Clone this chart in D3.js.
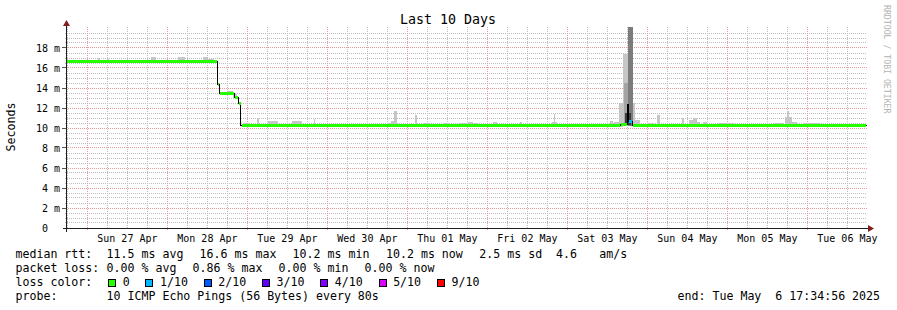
<!DOCTYPE html>
<html>
<head>
<meta charset="utf-8">
<script src="https://cdn.jsdelivr.net/npm/d3@7"></script>
<style>
  body { margin: 0; background: #fff; }
  text { font-family: "DejaVu Sans Mono", monospace; white-space: pre; }
</style>
</head>
<body>
<svg id="chart" width="897" height="310"></svg>
<script>
// ---- data ----
const endTime = "2025-05-06 17:34:56";
const spanDays = 10;
const yTicks = [0, 2, 4, 6, 8, 10, 12, 14, 16, 18];
const dayTicks = ["2025-04-27", "2025-04-28", "2025-04-29", "2025-04-30", "2025-05-01",
  "2025-05-02", "2025-05-03", "2025-05-04", "2025-05-05", "2025-05-06"];
const dayLabels = ["Sun 27 Apr", "Mon 28 Apr", "Tue 29 Apr", "Wed 30 Apr", "Thu 01 May",
  "Fri 02 May", "Sat 03 May", "Sun 04 May", "Mon 05 May", "Tue 06 May"];

// median rtt (ms), stepped, with loss class index
const medianTimes = ["2025-04-26 17:35", "2025-04-28 15:00", "2025-04-28 15:36", "2025-04-28 20:06",
  "2025-04-28 21:18", "2025-04-28 22:00", "2025-05-03 15:54", "2025-05-03 18:00",
  "2025-05-03 18:18", "2025-05-03 19:30"];
const medianValues = [16.6, 14.3, 13.5, 13.1, 12.5, 10.25, 10.4, 12.4, 10.7, 10.3];
const medianLoss = [0, 0, 0, 0, 0, 0, 0, 0, 1, 0];

// smoke: [from, to, top ms, shade]
const smoke = [
  ["2025-04-26 19:30", "2025-04-26 21:00", 16.8, 0],
  ["2025-04-27 03:18", "2025-04-27 03:54", 17.0, 0],
  ["2025-04-27 06:00", "2025-04-27 06:36", 16.95, 0],
  ["2025-04-27 13:30", "2025-04-27 14:42", 16.8, 0],
  ["2025-04-27 19:12", "2025-04-27 20:42", 17.1, 0],
  ["2025-04-27 23:00", "2025-04-28 00:30", 16.8, 0],
  ["2025-04-28 03:18", "2025-04-28 05:24", 17.1, 0],
  ["2025-04-28 10:48", "2025-04-28 11:48", 17.1, 0],
  ["2025-04-28 11:48", "2025-04-28 13:54", 16.95, 0],
  ["2025-04-28 17:54", "2025-04-28 19:48", 13.75, 0],
  ["2025-04-28 19:48", "2025-04-28 21:00", 13.4, 0],
  ["2025-04-28 22:48", "2025-04-29 00:54", 10.5, 0],
  ["2025-04-29 03:00", "2025-04-29 03:36", 11.0, 0],
  ["2025-04-29 06:18", "2025-04-29 09:18", 10.7, 0],
  ["2025-04-29 13:30", "2025-04-29 16:30", 10.75, 0],
  ["2025-04-29 20:06", "2025-04-29 20:24", 10.9, 0],
  ["2025-04-30 10:24", "2025-04-30 13:54", 10.45, 0],
  ["2025-04-30 18:00", "2025-04-30 19:12", 10.5, 0],
  ["2025-04-30 19:12", "2025-04-30 20:06", 10.75, 0],
  ["2025-04-30 20:06", "2025-04-30 20:54", 11.75, 0],
  ["2025-05-01 02:12", "2025-05-01 02:54", 11.35, 0],
  ["2025-05-01 04:48", "2025-05-01 06:54", 10.5, 0],
  ["2025-05-01 10:48", "2025-05-01 12:54", 10.5, 0],
  ["2025-05-01 15:54", "2025-05-01 20:54", 10.5, 0],
  ["2025-05-01 18:18", "2025-05-01 19:48", 10.6, 0],
  ["2025-05-02 01:48", "2025-05-02 03:00", 10.6, 0],
  ["2025-05-02 09:54", "2025-05-02 10:30", 10.6, 0],
  ["2025-05-02 12:18", "2025-05-02 16:48", 10.45, 0],
  ["2025-05-02 19:24", "2025-05-02 20:54", 10.6, 0],
  ["2025-05-02 19:54", "2025-05-02 20:24", 11.45, 0],
  ["2025-05-03 12:54", "2025-05-03 13:48", 10.75, 0],
  ["2025-05-03 14:06", "2025-05-03 15:36", 10.6, 0],
  ["2025-05-03 15:36", "2025-05-03 16:42", 12.5, 0],
  ["2025-05-03 16:42", "2025-05-03 18:12", 17.35, 0],
  ["2025-05-03 17:06", "2025-05-03 18:12", 14.5, 1],
  ["2025-05-03 18:12", "2025-05-03 19:36", 25, 2],
  ["2025-05-03 17:24", "2025-05-03 19:12", 11.5, 3],
  ["2025-05-03 19:36", "2025-05-03 20:24", 12.5, 0],
  ["2025-05-03 20:24", "2025-05-03 21:54", 10.8, 0],
  ["2025-05-03 23:54", "2025-05-04 01:54", 10.5, 0],
  ["2025-05-04 02:54", "2025-05-04 03:42", 11.3, 0],
  ["2025-05-04 10:24", "2025-05-04 10:54", 11.0, 0],
  ["2025-05-04 12:24", "2025-05-04 13:36", 10.8, 0],
  ["2025-05-04 13:36", "2025-05-04 15:00", 11.0, 0],
  ["2025-05-04 15:00", "2025-05-04 15:54", 10.6, 0],
  ["2025-05-04 16:48", "2025-05-04 18:00", 10.6, 0],
  ["2025-05-04 20:54", "2025-05-05 01:48", 10.5, 0],
  ["2025-05-05 13:48", "2025-05-05 16:48", 10.5, 0],
  ["2025-05-05 17:24", "2025-05-05 19:24", 11.1, 0],
  ["2025-05-05 17:54", "2025-05-05 18:24", 11.7, 0],
  ["2025-05-05 19:24", "2025-05-05 21:00", 10.6, 0],
  ["2025-05-05 22:48", "2025-05-06 03:54", 10.5, 0]
];
const smokeShades = ["#c6c6c6", "#a4a4a4", "#7c7c7c", "#3e3e3e"];

const lossLabels = ["0", "1/10", "2/10", "3/10", "4/10", "5/10", "9/10"];
const lossColors = ["#26ff00", "#00b8ff", "#0059ff", "#5e00ff", "#7e00ff", "#dd00ff", "#ff0000"];
const rttStats = ["11.5 ms avg", "16.6 ms max", "10.2 ms min", "10.2 ms now", "2.5 ms sd", "4.6", "am/s"];
const lossStats = ["0.00 % avg", "0.86 % max", "0.00 % min", "0.00 % now"];
const probeText = "10 ICMP Echo Pings (56 Bytes) every 80s";
const endText = "end: Tue May  6 17:34:56 2025";

// ---- scales ----
const parseT = d3.utcParse("%Y-%m-%d %H:%M");
const parseDay = d3.utcParse("%Y-%m-%d");
const end = d3.utcParse("%Y-%m-%d %H:%M:%S")(endTime);
const start = d3.utcDay.offset(end, -spanDays);

const x = d3.scaleUtc().domain([start, end]).range([66, 866]);
const y = d3.scaleLinear().domain([0, 20]).range([228, 28]);
const px = (v) => Math.floor(v) + 0.5;

const svg = d3.select("#chart");
const MINOR = "#bdbdbd", MAJOR = "#e99a9a", AXIS = "#1f1f1f", ARROW = "#801f1f";

// ---- grid ----
const grid = svg.append("g").attr("shape-rendering", "crispEdges").attr("stroke-dasharray", "1,1");
const minorY = d3.range(0.5, 20, 0.5).filter((v) => v % 2 !== 0);
grid.selectAll(".hmin").data(minorY).join("line")
  .attr("x1", 65).attr("x2", 867)
  .attr("y1", (v) => px(y(v))).attr("y2", (v) => px(y(v)))
  .attr("stroke", MINOR);

const hours = d3.utcHour.every(6).range(start, end).filter((d) => d.getUTCHours() !== 0);
grid.selectAll(".vmin").data(hours).join("line")
  .attr("x1", (d) => px(x(d))).attr("x2", (d) => px(x(d)))
  .attr("y1", 27).attr("y2", 229)
  .attr("stroke", MINOR);

grid.selectAll(".hmaj").data(yTicks.filter((v) => v > 0)).join("line")
  .attr("x1", 64).attr("x2", 868)
  .attr("y1", (v) => px(y(v))).attr("y2", (v) => px(y(v)))
  .attr("stroke", MAJOR);

const days = d3.utcDay.range(start, end);
grid.selectAll(".vmaj").data(days).join("line")
  .attr("x1", (d) => px(x(d))).attr("x2", (d) => px(x(d)))
  .attr("y1", 27).attr("y2", 231)
  .attr("stroke", MAJOR);

// ---- smoke ----
const steps = medianTimes.map((t, i) => ({
  t0: parseT(t),
  t1: i + 1 < medianTimes.length ? parseT(medianTimes[i + 1]) : end,
  v: medianValues[i],
  loss: medianLoss[i]
}));
// lowest median over a time window, the smoke sits on it
const medianLow = (t0, t1) =>
  d3.min(steps.filter((s) => s.t1 > t0 && s.t0 < t1), (s) => s.v);

const plot = svg.append("g").attr("shape-rendering", "crispEdges");
plot.selectAll(".smoke").data(smoke).join("rect")
  .each(function (d) {
    const t0 = parseT(d[0]), t1 = parseT(d[1]);
    const x0 = Math.round(x(t0)), x1 = Math.round(x(t1));
    const top = Math.max(27, Math.round(y(d[2])));
    const bottom = Math.round(y(medianLow(t0, t1) - 0.1));
    d3.select(this)
      .attr("x", x0).attr("width", Math.max(1, x1 - x0))
      .attr("y", top).attr("height", Math.max(0, bottom - top))
      .attr("fill", smokeShades[d[3]]);
  });

// ---- median ----
const stepLine = d3.line()
  .x((d) => px(x(d.t)))
  .y((d) => px(y(d.v)))
  .curve(d3.curveStepAfter);
const linePts = steps.map((s) => ({ t: s.t0, v: s.v }))
  .concat([{ t: end, v: medianValues[medianValues.length - 1] }]);

svg.append("path")
  .attr("d", stepLine(linePts))
  .attr("fill", "none")
  .attr("stroke", "#000")
  .attr("stroke-width", 1)
  .attr("shape-rendering", "crispEdges");

svg.selectAll(".med").data(steps).join("line")
  .attr("x1", (d) => Math.round(x(d.t0)) + 1)
  .attr("x2", (d) => Math.round(x(d.t1)))
  .attr("y1", (d) => px(y(d.v)))
  .attr("y2", (d) => px(y(d.v)))
  .attr("stroke", (d) => lossColors[d.loss])
  .attr("stroke-width", 3)
  .attr("shape-rendering", "crispEdges");

// ---- axes ----
const axes = svg.append("g").attr("shape-rendering", "crispEdges");
axes.append("line").attr("x1", 63).attr("x2", 869).attr("y1", 228.5).attr("y2", 228.5).attr("stroke", AXIS);
axes.append("line").attr("x1", 66.5).attr("x2", 66.5).attr("y1", 232).attr("y2", 25).attr("stroke", AXIS);
axes.selectAll(".yt").data(yTicks.filter((v) => v > 0)).join("line")
  .attr("x1", 62).attr("x2", 66)
  .attr("y1", (v) => px(y(v))).attr("y2", (v) => px(y(v)))
  .attr("stroke", "#555");

svg.append("path").attr("d", "M66.5,20 L63,26 L70,26 Z").attr("fill", ARROW);
svg.append("path").attr("d", "M874,228.5 L868,225 L868,232 Z").attr("fill", ARROW);

svg.selectAll(".ylab").data(yTicks).join("text")
  .attr("x", (v) => (v === 0 ? 48 : 60))
  .attr("y", (v) => y(v) + 3.8)
  .attr("text-anchor", "end")
  .attr("font-size", "10px")
  .attr("fill", "#000")
  .text((v) => (v === 0 ? "0" : v + " m"));

svg.selectAll(".xlab").data(dayTicks).join("text")
  .attr("x", (d) => x(d3.utcHour.offset(parseDay(d), 12)))
  .attr("y", 241.5)
  .attr("text-anchor", "middle")
  .attr("font-size", "10px")
  .attr("fill", "#000")
  .text((d, i) => dayLabels[i]);

// ---- titles ----
svg.append("text").attr("x", 448).attr("y", 24).attr("text-anchor", "middle")
  .attr("font-size", "13.3px").text("Last 10 Days");
svg.append("text").attr("transform", "translate(15,127) rotate(-90)").attr("text-anchor", "middle")
  .attr("font-size", "11.6px").text("Seconds");
svg.append("text").attr("transform", "translate(884,5) rotate(90)")
  .attr("font-size", "8.2px").attr("fill", "#b4b4b4").text("RRDTOOL / TOBI OETIKER");

// ---- legend ----
const lg = svg.append("g").attr("font-size", "11.6px").attr("fill", "#000");
const row = (label, yy) => lg.append("text").attr("x", 15.5).attr("y", yy).text(label);
row("median rtt:", 258);
row("packet loss:", 272);
row("loss color:", 286);
row("probe:", 300);

const rttX = [106.6, 199.6, 292.6, 386, 479.3, 556, 599.3];
lg.selectAll(".rtt").data(rttStats).join("text")
  .attr("x", (d, i) => rttX[i]).attr("y", 258).text((d) => d);
lg.selectAll(".pl").data(lossStats).join("text")
  .attr("x", (d, i) => 106.6 + i * 86).attr("y", 272).text((d) => d);

let lx = 122.8;
const lossX = lossLabels.map((l) => { const cur = lx; lx += l.length * 7.05 + 30.1; return cur; });
lg.selectAll(".lbox").data(lossLabels).join("rect")
  .attr("x", (d, i) => Math.round(lossX[i] - 14.5) + 0.5).attr("y", 279.5)
  .attr("width", 7).attr("height", 7)
  .attr("fill", (d, i) => lossColors[i]).attr("stroke", "#000")
  .attr("shape-rendering", "crispEdges");
lg.selectAll(".ltxt").data(lossLabels).join("text")
  .attr("x", (d, i) => lossX[i]).attr("y", 286).text((d) => d);

lg.append("text").attr("x", 106.6).attr("y", 300).text(probeText);
lg.append("text").attr("x", 677.6).attr("y", 300).text(endText);
</script>
</body>
</html>
